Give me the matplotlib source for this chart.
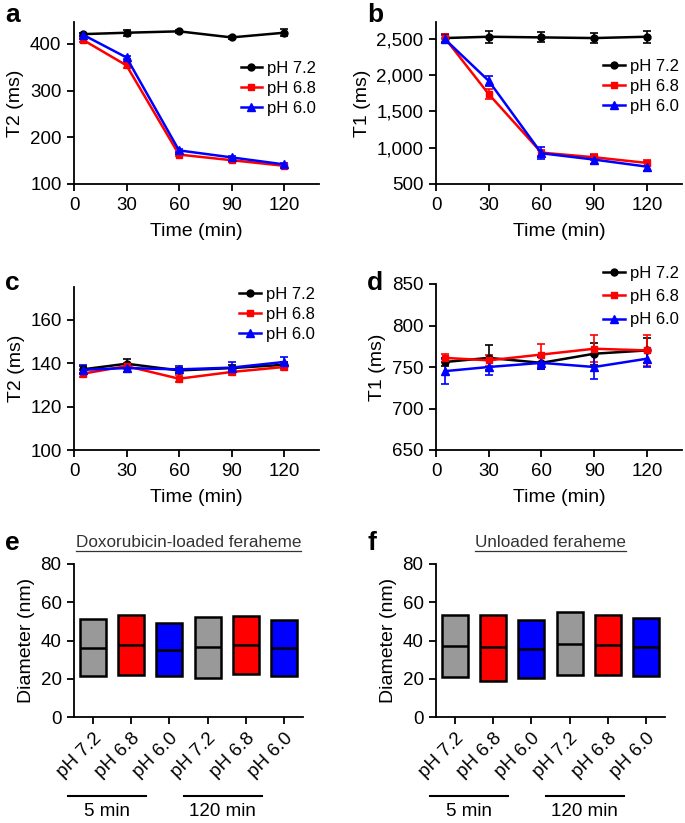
import numpy as np
import matplotlib
matplotlib.use("Agg")
import matplotlib.pyplot as plt
from matplotlib.transforms import blended_transform_factory

plt.rcParams['font.family'] = ['Liberation Sans', 'DejaVu Sans']

# time points (min)
times = [5, 30, 60, 90, 120]
ph_labels = ['pH 7.2', 'pH 6.8', 'pH 6.0']

# a: T2 (ms), Doxorubicin-loaded
a_t2_72 = [421, 424, 427, 414, 424]
a_t2_68 = [409, 354, 163, 151, 139]
a_t2_60 = [420, 371, 172, 157, 142]
a_err_72 = [3, 6, 3, 3, 7]
a_err_68 = [4, 5, 4, 3, 3]
a_err_60 = [3, 4, 3, 3, 3]

# b: T1 (ms), Doxorubicin-loaded
b_t1_72 = [2509, 2527, 2518, 2509, 2527]
b_t1_68 = [2510, 1737, 932, 868, 790]
b_t1_60 = [2495, 1920, 923, 836, 739]
b_err_72 = [50, 80, 70, 70, 80]
b_err_68 = [60, 70, 40, 40, 40]
b_err_60 = [50, 70, 80, 60, 60]

# c: T2 (ms), unloaded
c_t2_72 = [137.1, 139.7, 136.6, 137.7, 139.2]
c_t2_68 = [135.1, 138.6, 132.8, 135.9, 138.2]
c_t2_60 = [136.9, 137.7, 137.1, 137.9, 140.5]
c_err_72 = [1.5, 2.0, 1.0, 1.5, 1.5]
c_err_68 = [1.5, 1.5, 1.5, 1.5, 1.5]
c_err_60 = [2.0, 2.0, 1.5, 2.5, 2.5]

# d: T1 (ms), unloaded
d_t1_72 = [756, 761, 755, 766, 770]
d_t1_68 = [761, 758, 765, 772, 770]
d_t1_60 = [745, 750, 755, 750, 760]
d_err_72 = [5, 15, 7, 13, 15]
d_err_68 = [5, 7, 13, 16, 19]
d_err_60 = [15, 10, 7, 15, 10]

# e/f: diameter boxes (bottom, median, top), nm
box_labels = ['pH 7.2', 'pH 6.8', 'pH 6.0', 'pH 7.2', 'pH 6.8', 'pH 6.0']
box_colors = ['#999999', '#ff0000', '#0000ff', '#999999', '#ff0000', '#0000ff']
e_low = [21.4, 21.7, 21.4, 20.3, 22.6, 21.6]
e_mid = [36.3, 37.6, 35.1, 36.5, 37.7, 36.3]
e_high = [51.1, 53.4, 48.9, 52.5, 53.0, 50.8]
f_low = [20.9, 18.6, 20.4, 21.8, 21.8, 21.4]
f_mid = [37.1, 36.4, 35.5, 38.2, 37.5, 36.6]
f_high = [53.1, 53.3, 50.7, 54.7, 53.5, 51.7]
groups = ['5 min', '120 min']

W, H = 685, 823
fig = plt.figure(figsize=(W / 100, H / 100), dpi=100)


def px_axes(left, right, top, bottom):
    return fig.add_axes([left / W, 1 - bottom / H, (right - left) / W, (bottom - top) / H])


def style(ax):
    ax.spines['top'].set_visible(False)
    ax.spines['right'].set_visible(False)
    ax.spines['left'].set_linewidth(1.3)
    ax.spines['bottom'].set_linewidth(1.3)
    ax.tick_params(direction='out', length=5, width=1.3, labelsize=13.5, pad=4)


styles = [('black', 'o', 5), ('#ff0000', 's', 5), ('#0000ff', '^', 6)]


def line_panel(ax, series, errs, ylim, yticks, ylabel, leg_anchor, spacing):
    for (c, m, ms), y, e, lab in zip(styles, series, errs, ph_labels):
        ax.errorbar(times, y, yerr=e, color=c, marker=m, ms=ms, lw=1.8,
                    capsize=3, elinewidth=1.2, capthick=1.2, label=lab)
    ax.set_xlim(0, 140)
    ax.set_xticks([0, 30, 60, 90, 120])
    ax.set_ylim(*ylim)
    ax.set_yticks(yticks)
    ax.set_xlabel('Time (min)', fontsize=14, labelpad=7)
    ax.set_ylabel(ylabel, fontsize=14, labelpad=4)
    style(ax)
    handles, labels = ax.get_legend_handles_labels()
    handles = [h[0] for h in handles]
    ax.legend(handles, labels, loc='upper left', bbox_to_anchor=leg_anchor, frameon=False,
              fontsize=12, handlelength=1.3, handletextpad=0.3, labelspacing=spacing,
              borderpad=0, borderaxespad=0)


ax_a = px_axes(74, 319, 22, 184)
line_panel(ax_a, [a_t2_72, a_t2_68, a_t2_60], [a_err_72, a_err_68, a_err_60],
           (100, 447), [100, 200, 300, 400], 'T2 (ms)', (0.68, 0.76), 0.3)

ax_b = px_axes(436, 682, 22, 184)
line_panel(ax_b, [b_t1_72, b_t1_68, b_t1_60], [b_err_72, b_err_68, b_err_60],
           (500, 2730), [500, 1000, 1500, 2000, 2500], 'T1 (ms)', (0.68, 0.77), 0.3)
ax_b.set_yticklabels(['500', '1,000', '1,500', '2,000', '2,500'])

ax_c = px_axes(74, 319, 287, 450)
line_panel(ax_c, [c_t2_72, c_t2_68, c_t2_60], [c_err_72, c_err_68, c_err_60],
           (100, 175), [100, 120, 140, 160], 'T2 (ms)', (0.675, 1.0), 0.3)

ax_d = px_axes(436, 682, 284, 450)
line_panel(ax_d, [d_t1_72, d_t1_68, d_t1_60], [d_err_72, d_err_68, d_err_60],
           (650, 850), [650, 700, 750, 800, 850], 'T1 (ms)', (0.68, 1.11), 0.5)


def box_panel(ax, low, mid, high, title):
    x = np.arange(len(box_labels))
    heights = [h - l for h, l in zip(high, low)]
    ax.bar(x, heights, bottom=low, width=0.68, color=box_colors,
           edgecolor='black', linewidth=1.8)
    ax.hlines(mid, x - 0.34, x + 0.34, color='black', lw=1.8)
    ax.set_xlim(-0.5, 5.5)
    ax.set_ylim(0, 80)
    ax.set_yticks([0, 20, 40, 60, 80])
    ax.set_xticks(x)
    ax.set_xticklabels(box_labels, rotation=45, ha='right', rotation_mode='anchor')
    ax.set_ylabel('Diameter (nm)', fontsize=14, labelpad=4)
    style(ax)
    t = ax.text(0.5, 1.14, title, transform=ax.transAxes, ha='center', va='center',
                fontsize=12.3, color='#333333')
    fig.canvas.draw()
    bb = t.get_window_extent().transformed(fig.transFigure.inverted())
    fig.add_artist(plt.Line2D([bb.x0, bb.x1], [bb.y0 - 0.001, bb.y0 - 0.001],
                              transform=fig.transFigure, color='#333333', lw=0.9))
    tr = blended_transform_factory(ax.transData, fig.transFigure)
    ly = 1 - 796 / H
    for (x0, x1), g in zip([(-0.65, 1.39), (2.38, 4.42)], groups):
        ax.plot([x0, x1], [ly, ly], transform=tr, color='black', lw=1.5, clip_on=False)
        ax.text((x0 + x1) / 2, 1 - 812 / H, g, transform=tr, ha='center', va='center',
                fontsize=13.5)


ax_e = px_axes(74, 303, 564, 717)
box_panel(ax_e, e_low, e_mid, e_high, 'Doxorubicin-loaded feraheme')

ax_f = px_axes(436, 665, 564, 717)
box_panel(ax_f, f_low, f_mid, f_high, 'Unloaded feraheme')

# panel letters
for lab, (px, py) in zip('abcdef', [(5, 15), (367, 15), (5, 283), (367, 283), (5, 543), (367, 543)]):
    fig.text(px / W, 1 - py / H, lab, fontsize=19, fontweight='bold', ha='left', va='center')

fig.savefig('out.png', dpi=100)
